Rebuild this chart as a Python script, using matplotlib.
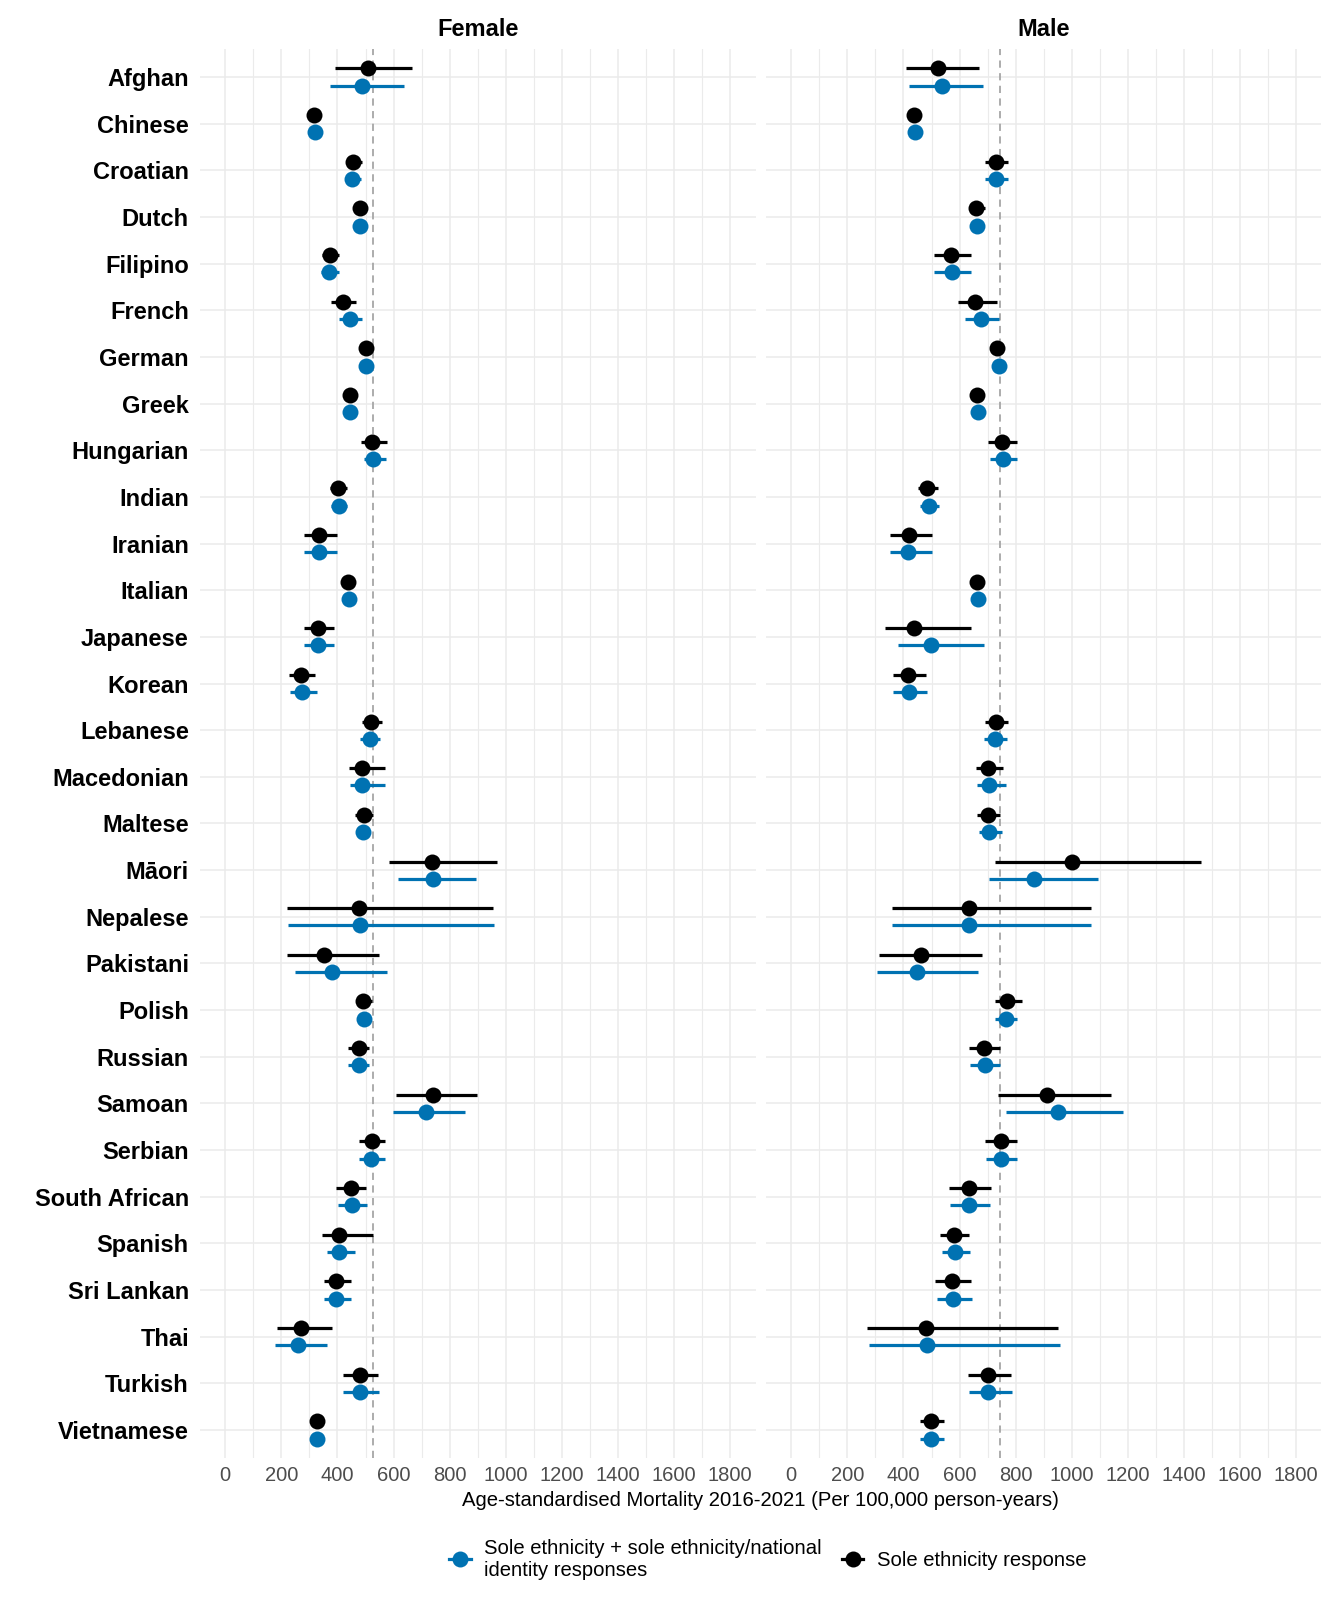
import numpy as np
import matplotlib
matplotlib.use("Agg")
import matplotlib.pyplot as plt
from matplotlib.lines import Line2D

plt.rcParams["font.family"] = ["Liberation Sans", "DejaVu Sans"]

ethnicities = [
    "Afghan", "Chinese", "Croatian", "Dutch", "Filipino", "French", "German",
    "Greek", "Hungarian", "Indian", "Iranian", "Italian", "Japanese", "Korean",
    "Lebanese", "Macedonian", "Maltese", "Māori", "Nepalese", "Pakistani",
    "Polish", "Russian", "Samoan", "Serbian", "South African", "Spanish",
    "Sri Lankan", "Thai", "Turkish", "Vietnamese",
]

# Female - sole ethnicity response (black)
female_sole = [510, 318, 454, 482, 372, 419, 503, 445, 522, 403, 335, 439, 330, 271, 518,
               488, 493, 736, 475, 351, 492, 475, 739, 522, 448, 406, 394, 270, 480, 327]
female_sole_lo = [392, 305, 430, 468, 344, 378, 490, 432, 484, 374, 279, 426, 279, 229, 487,
                  440, 464, 583, 220, 220, 465, 437, 610, 475, 395, 344, 353, 184, 418, 314]
female_sole_hi = [665, 332, 487, 497, 407, 467, 516, 458, 576, 433, 398, 452, 388, 321, 558,
                  568, 525, 969, 955, 549, 523, 514, 898, 571, 503, 525, 449, 382, 546, 340]

# Female - sole ethnicity + sole ethnicity/national identity (blue)
female_comb = [489, 321, 451, 481, 370, 445, 502, 444, 528, 404, 334, 442, 329, 274, 517,
               489, 490, 739, 479, 382, 494, 475, 717, 521, 451, 406, 395, 258, 482, 327]
female_comb_lo = [374, 308, 426, 468, 342, 404, 489, 431, 493, 376, 279, 429, 279, 232, 482,
                  443, 466, 614, 222, 247, 480, 437, 597, 475, 401, 362, 353, 179, 419, 314]
female_comb_hi = [638, 334, 484, 494, 405, 489, 515, 457, 574, 433, 398, 455, 386, 327, 553,
                  568, 517, 894, 957, 576, 508, 514, 856, 569, 504, 462, 449, 363, 547, 340]

# Male - sole ethnicity response (black)
male_sole = [523, 436, 729, 658, 568, 655, 733, 661, 750, 485, 419, 663, 436, 417, 731,
             702, 700, 999, 635, 461, 770, 686, 912, 746, 632, 580, 573, 479, 700, 497]
male_sole_lo = [408, 424, 691, 637, 508, 594, 720, 648, 701, 452, 351, 650, 334, 362, 690,
                658, 661, 728, 359, 313, 725, 632, 738, 691, 562, 529, 514, 269, 630, 458]
male_sole_hi = [669, 449, 773, 690, 639, 732, 746, 674, 806, 522, 503, 676, 639, 479, 773,
                755, 744, 1461, 1067, 680, 824, 745, 1140, 803, 712, 632, 640, 951, 782, 544]

# Male - sole ethnicity + sole ethnicity/national identity (blue)
male_comb = [536, 441, 729, 663, 572, 676, 739, 664, 755, 491, 416, 665, 498, 419, 728,
             706, 704, 865, 635, 448, 765, 689, 950, 747, 633, 584, 578, 485, 703, 497]
male_comb_lo = [420, 428, 692, 648, 510, 619, 726, 651, 708, 459, 351, 652, 380, 364, 687,
                663, 669, 706, 359, 304, 728, 636, 767, 693, 567, 537, 518, 276, 635, 458]
male_comb_hi = [682, 454, 771, 680, 640, 741, 752, 677, 806, 527, 502, 678, 687, 483, 770,
                764, 752, 1095, 1067, 665, 806, 745, 1184, 806, 707, 636, 645, 958, 787, 544]

female_ref = 528
male_ref = 745

BLUE = "#0072B2"
BLACK = "#000000"
GRID = "#EBEBEB"

W, H = 1332, 1599
fig = plt.figure(figsize=(W / 100, H / 100), dpi=100)
panel_bottom = 1 - 1458 / H
panel_height = (1458 - 49) / H
panel_width = 555.5 / W
ax_f = fig.add_axes([200 / W, panel_bottom, panel_width, panel_height])
ax_m = fig.add_axes([766 / W, panel_bottom, panel_width, panel_height])


def draw_panel(ax, title, sole, sole_lo, sole_hi, comb, comb_lo, comb_hi, ref, show_labels):
    y = np.arange(len(ethnicities))
    sole, sole_lo, sole_hi = map(np.array, (sole, sole_lo, sole_hi))
    comb, comb_lo, comb_hi = map(np.array, (comb, comb_lo, comb_hi))

    ax.set_xlim(-90, 1890)
    ax.set_ylim(len(ethnicities) - 0.4, -0.6)
    ax.set_xticks(np.arange(0, 1801, 200))
    ax.set_xticks(np.arange(100, 1801, 200), minor=True)
    ax.set_yticks(y)
    ax.set_axisbelow(True)
    ax.grid(which="major", color=GRID, linewidth=1.1)
    ax.grid(which="minor", axis="x", color=GRID, linewidth=0.8)
    for s in ax.spines.values():
        s.set_visible(False)
    ax.tick_params(axis="both", which="both", length=0)
    ax.tick_params(axis="x", pad=6, labelsize=14.5, labelcolor="#4D4D4D")
    ax.tick_params(axis="y", pad=8)
    if show_labels:
        ax.set_yticklabels(ethnicities, fontsize=17, fontweight="bold", color="black")
    else:
        ax.set_yticklabels([])

    ax.axvline(ref, color="#A6A6A6", linestyle=(0, (4, 3)), linewidth=1.3, zorder=1.5)

    ax.errorbar(comb, y + 0.185, xerr=[comb - comb_lo, comb_hi - comb], fmt="o",
                color=BLUE, ms=11.5, mew=0, elinewidth=2.3, capsize=0, zorder=3)
    ax.errorbar(sole, y - 0.185, xerr=[sole - sole_lo, sole_hi - sole], fmt="o",
                color=BLACK, ms=11.5, mew=0, elinewidth=2.3, capsize=0, zorder=3)

    pos = ax.get_position()
    fig.text(pos.x0 + pos.width / 2, 1 - 29 / H, title, ha="center", va="center",
             fontsize=17, fontweight="bold")


draw_panel(ax_f, "Female", female_sole, female_sole_lo, female_sole_hi,
           female_comb, female_comb_lo, female_comb_hi, female_ref, True)
draw_panel(ax_m, "Male", male_sole, male_sole_lo, male_sole_hi,
           male_comb, male_comb_lo, male_comb_hi, male_ref, False)

fig.text(760.5 / W, 1 - 1500 / H,
         "Age-standardised Mortality 2016-2021 (Per 100,000 person-years)",
         ha="center", va="center", fontsize=14.6)

handles = [
    Line2D([0], [0], color=BLUE, marker="o", ms=11.5, mew=0, lw=2.3),
    Line2D([0], [0], color=BLACK, marker="o", ms=11.5, mew=0, lw=2.3),
]
labels = [
    "Sole ethnicity + sole ethnicity/national\nidentity responses",
    "Sole ethnicity response",
]
fig.legend(handles, labels, loc="center", bbox_to_anchor=(768 / W, 1 - 1559 / H),
           ncol=2, frameon=False, fontsize=14.6, handlelength=1.05,
           handletextpad=0.67, columnspacing=1.0, borderaxespad=0)

fig.savefig("out.png", dpi=100)
